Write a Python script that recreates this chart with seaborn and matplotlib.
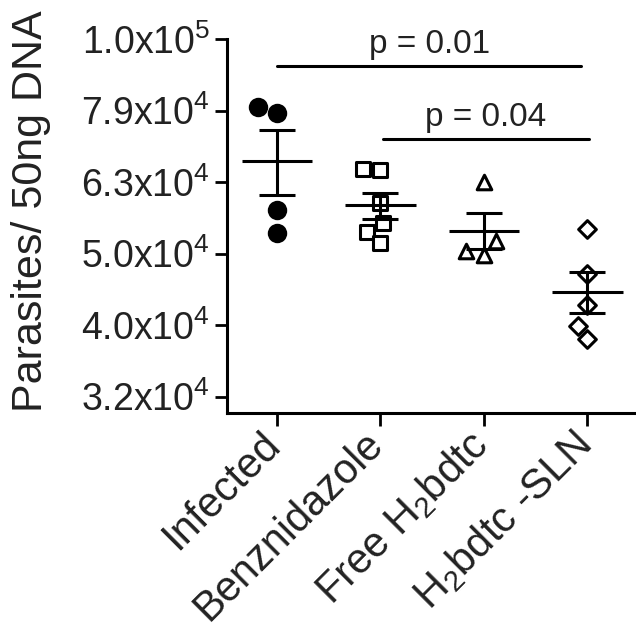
import numpy as np
import pandas as pd
import matplotlib
matplotlib.use('Agg')
import matplotlib.pyplot as plt
import matplotlib.transforms as mtrans
import seaborn as sns
from matplotlib.ticker import FixedLocator, NullLocator

# values (parasites / 50 ng DNA)
groups = ['Infected', 'Benznidazole', 'Free H$_2$bdtc', 'H$_2$bdtc -SLN']
infected = [80300, 78700, 57700, 53550]
benznidazole = [65620, 65700, 55280, 53810, 51840, 58960]
free_h2bdtc = [63200, 52110, 49930, 50460]
h2bdtc_sln = [54280, 46930, 42510, 39660, 38080]
markers = ['o', 's', '^', 'D']

ytick_values = [10**4.5, 10**4.6, 10**4.7, 10**4.8, 10**4.9, 10**5.0]
ytick_labels = ['3.2x10$^4$', '4.0x10$^4$', '5.0x10$^4$',
                '6.3x10$^4$', '7.9x10$^4$', '1.0x10$^5$']

sig_texts = ['p = 0.01', 'p = 0.04']
sig_levels = [9.18e4, 7.25e4]

sns.set_theme(style='ticks')
plt.rcParams['font.family'] = ['Liberation Sans', 'DejaVu Sans']
plt.rcParams['mathtext.fontset'] = 'custom'
plt.rcParams['mathtext.rm'] = 'Liberation Sans'
plt.rcParams['mathtext.it'] = 'Liberation Sans:italic'
plt.rcParams['mathtext.bf'] = 'Liberation Sans:bold'
plt.rcParams['mathtext.default'] = 'rm'

values = [infected, benznidazole, free_h2bdtc, h2bdtc_sln]
df = pd.DataFrame({
    'group': np.repeat(groups, [len(v) for v in values]),
    'value': np.concatenate(values),
})

text_col = '#222222'
fig = plt.figure(figsize=(6.36, 6.32), dpi=100)
ax = fig.add_axes([227/636, 1 - 413/632, 409/636, 374/632])

sizes = {'o': 14, 's': 10, '^': 10.5, 'D': 9}
for g, m in zip(groups, markers):
    sub = df[df['group'] == g]
    filled = m == 'o'
    sns.swarmplot(data=sub, x='group', y='value', order=groups, marker=m,
                  size=sizes[m], color='black' if filled else 'white',
                  edgecolor='black', linewidth=0 if filled else 2.2,
                  log_scale=True, ax=ax, zorder=2)

# mean +/- SEM
stats = df.groupby('group', sort=False)['value'].agg(['mean', 'sem'])
for i, g in enumerate(groups):
    mu, se = stats.loc[g, 'mean'], stats.loc[g, 'sem']
    ax.hlines(mu, i - 0.34, i + 0.34, color='black', lw=2.2, zorder=3)
    ax.errorbar(i, mu, yerr=se, color='black', lw=2.2, capsize=13,
                capthick=2.2, zorder=3)

# significance bars
for (x0, x1), lvl, txt in zip([(0, 2.94), (1.02, 3.02)], sig_levels, sig_texts):
    ax.plot([x0, x1], [lvl, lvl], color='black', lw=2.2, clip_on=False)
    ax.annotate(txt, xy=((x0 + x1) / 2, lvl), xytext=(0, 4),
                textcoords='offset points', ha='center', va='bottom',
                fontsize=24, color=text_col, annotation_clip=False)

ax.set_yscale('log')
ax.set_ylim(3.0e4, 1.0e5)
ax.set_xlim(-0.483, 3.47)
ax.yaxis.set_major_locator(FixedLocator(ytick_values))
ax.yaxis.set_minor_locator(NullLocator())
ax.set_yticklabels(ytick_labels)
ax.set_xticks(range(len(groups)))
ax.set_xticklabels(groups, rotation=45, ha='right', rotation_mode='anchor')

ax.tick_params(axis='both', length=9, width=2, color='black',
               labelcolor=text_col)
ax.tick_params(axis='y', labelsize=27, pad=3)
ax.tick_params(axis='x', labelsize=30, pad=4)

shift = mtrans.ScaledTranslation(-0.17, 0.07, fig.dpi_scale_trans)
for lab in ax.get_xticklabels():
    lab.set_transform(lab.get_transform() + shift)

sns.despine(ax=ax)
for side in ['left', 'bottom']:
    ax.spines[side].set_linewidth(2.2)
    ax.spines[side].set_color('black')

ax.set_xlabel('')
ax.set_ylabel('Parasites/ 50ng DNA', fontsize=31, color=text_col)
ax.yaxis.set_label_coords(-0.43, 0.54)

fig.savefig('out.png', dpi=100)
